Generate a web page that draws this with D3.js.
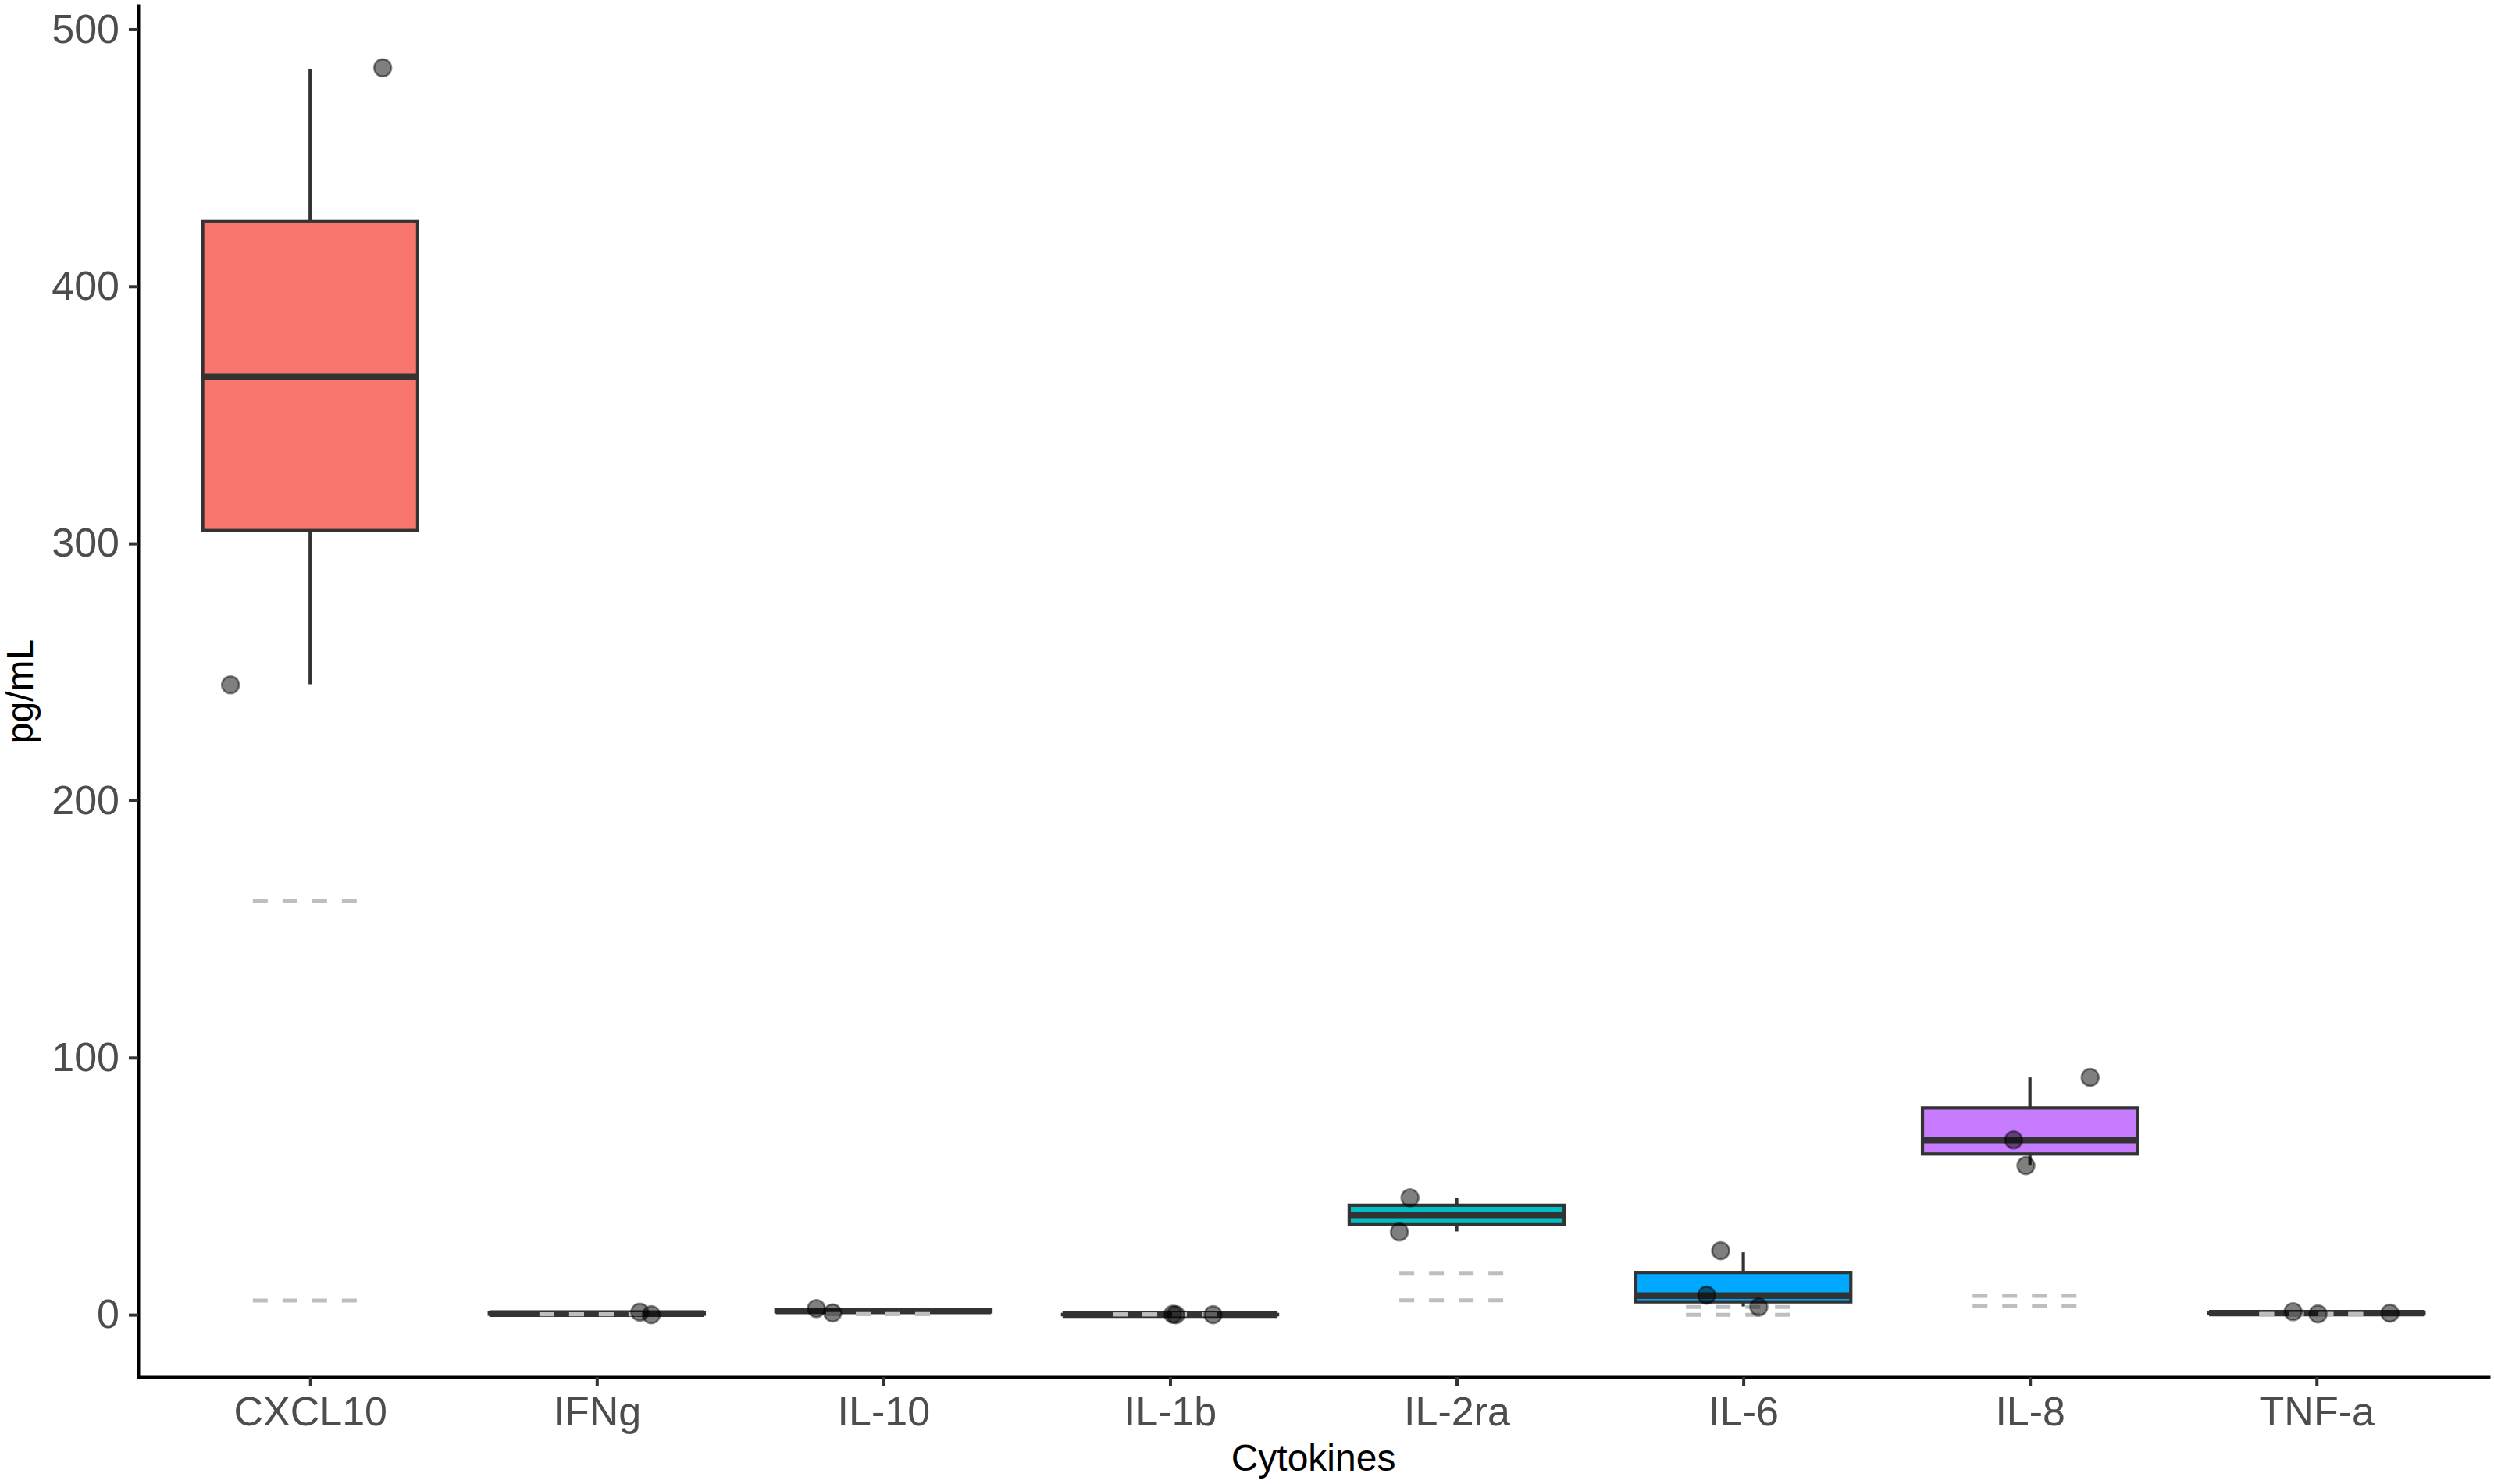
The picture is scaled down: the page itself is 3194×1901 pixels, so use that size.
<!DOCTYPE html>
<html>
<head>
<meta charset="utf-8">
<script src="https://cdn.jsdelivr.net/npm/d3@7"></script>
<style>
  html, body { margin: 0; padding: 0; background: #ffffff; }
  svg { display: block; }
</style>
</head>
<body>
<script>
// ---------------- DATA ----------------
const categories = ["CXCL10", "IFNg", "IL-10", "IL-1b", "IL-2ra", "IL-6", "IL-8", "TNF-a"];

// Box plot statistics per cytokine (pg/mL)
const boxLow    = [245.2, 0.0, 0.7, 0.0, 32.4, 3.2, 58.0, 0.3];
const boxQ1     = [305.0, 0.2, 1.1, 0.0, 35.0, 5.0, 62.5, 0.45];
const boxMedian = [364.8, 0.4, 1.5, 0.05, 38.8, 7.4, 68.0, 0.6];
const boxQ3     = [425.2, 0.7, 1.95, 0.1, 42.6, 16.4, 80.4, 0.9];
const boxHigh   = [484.4, 1.0, 2.4, 0.15, 45.3, 24.3, 92.3, 1.2];

// Individual samples (jittered points)
const pointCategory = ["CXCL10", "CXCL10", "IFNg", "IFNg", "IL-10", "IL-10",
                       "IL-1b", "IL-1b", "IL-1b", "IL-2ra", "IL-2ra",
                       "IL-6", "IL-6", "IL-6", "IL-8", "IL-8", "IL-8",
                       "TNF-a", "TNF-a", "TNF-a"];
const pointValue    = [485, 245, 1.0, 0.0, 2.4, 0.7,
                       0.2, 0.0, 0.0, 45.5, 32.2,
                       24.9, 7.6, 3.0, 92.3, 68.0, 58.0,
                       1.2, 0.3, 0.6];
// horizontal jitter, in fractions of one category step
const pointJitter   = [0.253, -0.278, 0.15, 0.19, -0.234, -0.177,
                       0.01, 0.02, 0.15, -0.163, -0.2,
                       -0.079, -0.128, 0.054, 0.21, -0.057, -0.014,
                       -0.082, 0.005, 0.256];

// Reference (dashed) levels per cytokine
const refLow  = [5.5, 0.1, 0.2, 0.1, 5.6, 0.0, 3.4, 0.3];
const refHigh = [160.8, 0.2, 0.3, 0.1, 16.2, 3.0, 7.3, 0.3];

const fillColors = ["#F8766D", "#CD9600", "#7CAE00", "#00BE67", "#00BFC4", "#00A9FF", "#C77CFF", "#FF61CC"];

const yTicks = [0, 100, 200, 300, 400, 500];
const xTitle = "Cytokines";
const yTitle = "pg/mL";

// ---------------- LAYOUT ----------------
(function draw() {
const W = 3194, H = 1901;
const pLeft = 177, pRight = 3187, pTop = 7, pBottom = 1764;
const FONT = "'Liberation Sans', Arial, Helvetica, sans-serif";

const svg = d3.select("body").append("svg")
  .attr("width", W).attr("height", H)
  .attr("viewBox", `0 0 ${W} ${H}`)
  .style("font-family", FONT);

svg.append("rect").attr("width", W).attr("height", H).attr("fill", "#ffffff");

const x = d3.scalePoint().domain(categories).range([pLeft, pRight]).padding(0.6);
const step = x.step();

const allVals = [...boxLow, ...boxHigh, ...pointValue, ...refLow, ...refHigh];
const ymin = d3.min(allVals), ymax = d3.max(allVals);
const pad = (ymax - ymin) * 0.05;
const y = d3.scaleLinear().domain([ymin - pad, ymax + pad]).range([pBottom, pTop]);

const boxes = categories.map((c, i) => ({
  c, lo: boxLow[i], q1: boxQ1[i], med: boxMedian[i], q3: boxQ3[i], hi: boxHigh[i], fill: fillColors[i]
}));

const boxW = step * 0.75;
const gBox = svg.append("g");

// whiskers
gBox.selectAll("line.wu").data(boxes).join("line")
  .attr("class", "wu")
  .attr("x1", d => x(d.c)).attr("x2", d => x(d.c))
  .attr("y1", d => y(d.q3)).attr("y2", d => y(d.hi))
  .attr("stroke", "#333333").attr("stroke-width", 4.2);
gBox.selectAll("line.wl").data(boxes).join("line")
  .attr("class", "wl")
  .attr("x1", d => x(d.c)).attr("x2", d => x(d.c))
  .attr("y1", d => y(d.q1)).attr("y2", d => y(d.lo))
  .attr("stroke", "#333333").attr("stroke-width", 4.2);

// boxes
gBox.selectAll("rect.box").data(boxes).join("rect")
  .attr("class", "box")
  .attr("x", d => x(d.c) - boxW / 2)
  .attr("width", boxW)
  .attr("y", d => y(d.q3))
  .attr("height", d => Math.max(0, y(d.q1) - y(d.q3)))
  .attr("fill", d => d.fill)
  .attr("stroke", "#333333").attr("stroke-width", 4.2);

// medians
gBox.selectAll("line.med").data(boxes).join("line")
  .attr("class", "med")
  .attr("x1", d => x(d.c) - boxW / 2).attr("x2", d => x(d.c) + boxW / 2)
  .attr("y1", d => y(d.med)).attr("y2", d => y(d.med))
  .attr("stroke", "#333333").attr("stroke-width", 8.4);

// dashed reference lines
const refs = [];
categories.forEach((c, i) => { refs.push({ c, v: refLow[i] }); refs.push({ c, v: refHigh[i] }); });
svg.append("g").selectAll("line").data(refs).join("line")
  .attr("x1", d => x(d.c) - step * 0.2).attr("x2", d => x(d.c) + step * 0.2)
  .attr("y1", d => y(d.v)).attr("y2", d => y(d.v))
  .attr("stroke", "#BEBEBE").attr("stroke-width", 5)
  .attr("stroke-dasharray", "19 19");

// points
const pts = pointValue.map((v, i) => ({ c: pointCategory[i], v, j: pointJitter[i] }));
svg.append("g").selectAll("circle").data(pts).join("circle")
  .attr("cx", d => x(d.c) + d.j * step)
  .attr("cy", d => y(d.v))
  .attr("r", 11)
  .attr("fill", "#000000").attr("fill-opacity", 0.5)
  .attr("stroke", "#000000").attr("stroke-opacity", 0.45).attr("stroke-width", 2.6);

// axes
const yAxis = svg.append("g").attr("transform", `translate(${pLeft},0)`)
  .call(d3.axisLeft(y).tickValues(yTicks).tickSize(12).tickSizeOuter(0).tickPadding(12));
const xAxis = svg.append("g").attr("transform", `translate(0,${pBottom})`)
  .call(d3.axisBottom(x).tickSize(12).tickSizeOuter(0).tickPadding(13));

[yAxis, xAxis].forEach(a => {
  a.select(".domain").attr("stroke", "#000000").attr("stroke-width", 4).attr("stroke-linecap", "square");
  a.selectAll(".tick line").attr("stroke", "#333333").attr("stroke-width", 4);
  a.selectAll(".tick text").attr("fill", "#4D4D4D").style("font-size", "52px")
    .style("font-family", FONT);
});

// axis titles
svg.append("text")
  .attr("x", (pLeft + pRight) / 2).attr("y", 1884)
  .attr("text-anchor", "middle")
  .style("font-size", "48px").attr("fill", "#000000")
  .text(xTitle);

svg.append("text")
  .attr("transform", `translate(42,${(pTop + pBottom) / 2}) rotate(-90)`)
  .attr("text-anchor", "middle")
  .style("font-size", "48px").attr("fill", "#000000")
  .text(yTitle);
})();
</script>
</body>
</html>
